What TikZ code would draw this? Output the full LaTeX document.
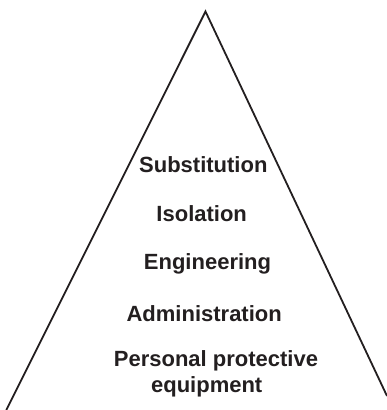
\documentclass[tikz,border=0pt]{standalone}
\usepackage{fontspec}
\setmainfont{Liberation Sans}
\usepackage{tikz}
\usetikzlibrary{positioning}
\definecolor{PyramidInk}{HTML}{231F20}
\newcommand{\level}[1]{\textbf{#1}}

\begin{document}
\begin{tikzpicture}[x=1pt, y=1pt, node distance=27pt, every node/.style={align=center, inner sep=0pt, text height=16pt, text depth=5pt, text=PyramidInk, font=\fontsize{22}{26}\selectfont}]
      % Frame
      \useasboundingbox (0,0) rectangle (387,410);
      % Pyramid sides
      \coordinate (apex) at (205.5,398.5);
      \coordinate (baseL) at (6.3,0);
      \coordinate (baseR) at (387,14);
      \draw[line width=1.8pt, PyramidInk] (baseL) -- (apex) -- (baseR);
      % Levels
      \node[anchor=base] (subst) at (203.3,237) {\level{Substitution}};
      \node[below=of subst, xshift=-1.6pt] (isol) {\level{Isolation}};
      \node[below=of isol, xshift=5.8pt] (engin) {\level{Engineering}};
      \node[below=30pt of engin, xshift=-3.3pt] (admin) {\level{Administration}};
      \node[below=24pt of admin, xshift=11.8pt, text height=, text depth=] (ppe) {\level{Personal protective}\\\hspace*{-18.6pt}\level{equipment}};
    \end{tikzpicture}
\end{document}
